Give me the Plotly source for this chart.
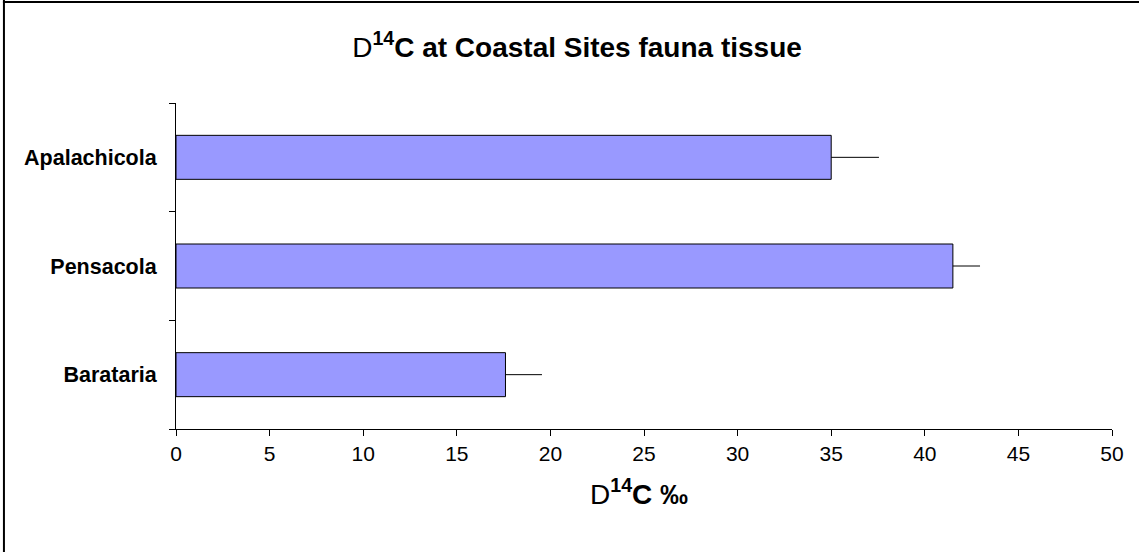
import plotly.graph_objects as go

sites = ["Barataria", "Pensacola", "Apalachicola"]
d14c = [17.6, 41.5, 35.0]
err_plus = [1.95, 1.45, 2.55]
x_ticks = [0, 5, 10, 15, 20, 25, 30, 35, 40, 45, 50]

W, H = 1139, 552
L, R, T, B = 176, 1111.7, 103, 429
pw, ph = R - L, B - T

def px(x):
    return (x - L) / pw

def py(y):
    return (B - y) / ph

FONT = "Liberation Sans, Arial, sans-serif"

fig = go.Figure(go.Bar(
    y=sites, x=d14c, orientation="h",
    marker=dict(color="#9999FF", line=dict(color="black", width=1)),
    error_x=dict(type="data", array=err_plus, arrayminus=[0, 0, 0], symmetric=False,
                 color="black", thickness=1, width=0),
    width=0.405,
))

fig.update_layout(
    width=W, height=H,
    margin=dict(l=L, r=W - R, t=T, b=H - B, pad=0),
    paper_bgcolor="white", plot_bgcolor="white",
    showlegend=False,
    font=dict(family=FONT, color="black"),
    title=dict(text="D<b><sup>14</sup>C at Coastal Sites fauna tissue</b>",
               x=577 / W, xanchor="center", y=1 - 47 / H, yanchor="middle",
               font=dict(size=28, family=FONT, color="black")),
    xaxis=dict(range=[0, 50], tickvals=x_ticks, ticktext=[str(v) for v in x_ticks],
               showgrid=False, zeroline=False, showline=True, linecolor="black", linewidth=1,
               ticks="outside", ticklen=6, tickcolor="black", tickwidth=1,
               tickfont=dict(size=21, family=FONT, color="black")),
    yaxis=dict(categoryorder="array", categoryarray=sites, range=[-0.5, 2.5],
               tickvals=sites, ticktext=["<b>%s</b>" % s for s in sites],
               showgrid=False, zeroline=False, showline=True, linecolor="black", linewidth=1,
               ticks="outside", ticklen=6, tickcolor="black", tickwidth=1, tickson="boundaries",
               ticklabelstandoff=14,
               tickfont=dict(size=21.5, family=FONT, color="black")),
    annotations=[
        dict(text="D<b><sup>14</sup>C ‰</b>", xref="paper", yref="paper",
             x=px(639), y=py(492), xanchor="center", yanchor="middle", showarrow=False,
             font=dict(size=28, family=FONT, color="black")),
    ],
    shapes=[
        dict(type="line", xref="paper", yref="paper", x0=px(4), x1=px(4), y0=py(0), y1=py(H + 5),
             line=dict(color="black", width=2)),
        dict(type="line", xref="paper", yref="paper", x0=px(3), x1=px(W + 5), y0=py(2), y1=py(2),
             line=dict(color="black", width=2)),
    ],
)

fig.write_html("out.html")
